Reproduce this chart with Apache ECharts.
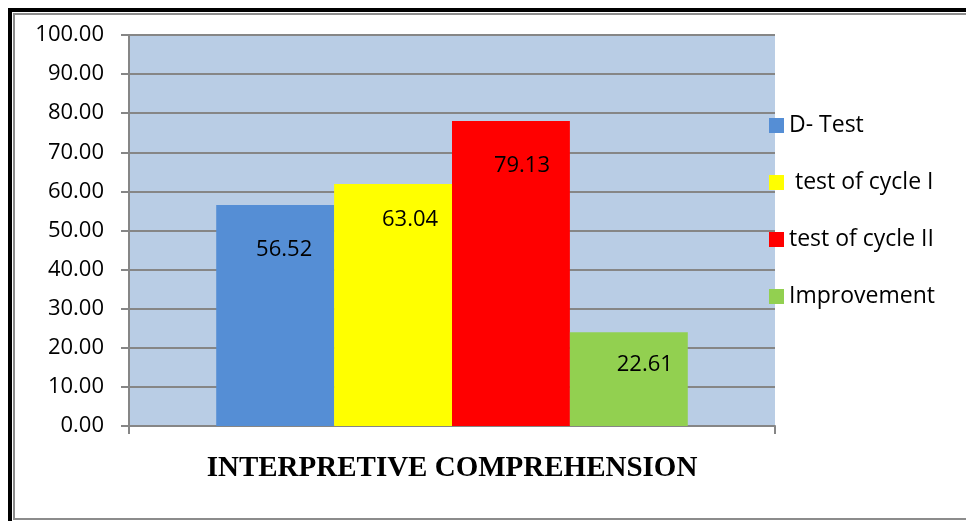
<!DOCTYPE html>
<html>
<head>
<meta charset="utf-8">
<script src="https://cdn.jsdelivr.net/npm/echarts@6/dist/echarts.min.js"></script>
<style>
  html, body { margin: 0; padding: 0; background: #fff; }
  #chart { width: 966px; height: 521px; }
</style>
</head>
<body>
<div id="chart"></div>
<script>
// values
let categories = ['INTERPRETIVE COMPREHENSION'];
let seriesNames = ['D- Test', ' test of cycle I', 'test of cycle II', 'Improvement'];
// bar heights as drawn
let barValues = [56.5, 61.9, 78.0, 24.0];
// printed data labels
let labelTexts = ['56.52', '63.04', '79.13', '22.61'];
let yTicks = [0, 10, 20, 30, 40, 50, 60, 70, 80, 90, 100];

let colorList = ['#558ED5', '#FFFF00', '#FF0000', '#92D050'];
let labelOffsets = [[9, 29], [17, 20], [11, 29], [16, 17]];

let instance = echarts.init(document.getElementById('chart'));

let series = seriesNames.map((name, i) => ({
  name: name,
  type: 'bar',
  data: [barValues[i]],
  barGap: '0%',
  barCategoryGap: '27%',
  itemStyle: { color: colorList[i] },
  label: {
    show: true,
    position: 'insideTop',
    offset: labelOffsets[i],
    formatter: () => labelTexts[i],
    color: '#000',
    fontSize: 22,
    fontFamily: 'Open Sans'
  }
}));

instance.setOption({
  animation: false,
  color: colorList,
  grid: {
    left: 129,
    right: 191,
    top: 35,
    bottom: 95,
    show: true,
    backgroundColor: '#B9CDE5',
    borderWidth: 0
  },
  legend: {
    orient: 'vertical',
    left: 769,
    top: 114,
    padding: 0,
    itemWidth: 15,
    itemHeight: 15,
    itemGap: 34,
    icon: 'rect',
    textStyle: { fontSize: 23, lineHeight: 22, color: '#000', fontFamily: 'Open Sans' },
    data: seriesNames
  },
  xAxis: {
    type: 'category',
    data: categories,
    axisLine: { lineStyle: { color: '#868686', width: 2 } },
    axisTick: { show: true, length: 8, lineStyle: { color: '#868686', width: 2 } },
    axisLabel: {
      show: true,
      margin: 28,
      color: '#000',
      fontSize: 29,
      fontWeight: 'bold',
      fontFamily: 'Liberation Serif'
    }
  },
  yAxis: {
    type: 'value',
    min: yTicks[0],
    max: yTicks[yTicks.length - 1],
    interval: 10,
    axisLine: { show: true, lineStyle: { color: '#868686', width: 2 } },
    axisTick: { show: true, length: 8, lineStyle: { color: '#868686', width: 2 } },
    splitLine: { lineStyle: { color: '#868686', width: 2 } },
    axisLabel: {
      formatter: (v) => v.toFixed(2),
      color: '#000',
      fontSize: 22,
      fontFamily: 'Open Sans',
      margin: 25
    }
  },
  graphic: [
    { type: 'rect', shape: { x: 10, y: 10, width: 970, height: 520 }, style: { fill: 'none', stroke: '#000', lineWidth: 4 }, silent: true },
    { type: 'rect', shape: { x: 14, y: 14, width: 960, height: 505 }, style: { fill: 'none', stroke: '#8c8c8c', lineWidth: 2 }, silent: true }
  ],
  series: series
});

window.onresize = () => {
  instance.resize();
};
</script>
</body>
</html>
